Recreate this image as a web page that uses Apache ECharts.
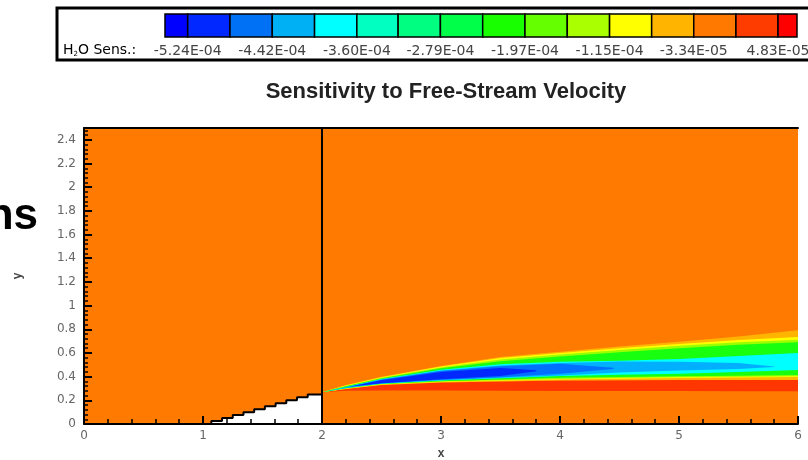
<!DOCTYPE html>
<html><head><meta charset="utf-8">
<script src="https://cdn.jsdelivr.net/npm/echarts@6/dist/echarts.min.js"></script>
<style>html,body{margin:0;padding:0;background:#fff}#c{width:808px;height:460px}</style>
</head><body><div id="c"></div>
<script>
// ---------- data ----------
const titleText = 'Sensitivity to Free-Stream Velocity';
const xTicks = [0, 1, 2, 3, 4, 5, 6];
const yTicks = [0, 0.2, 0.4, 0.6, 0.8, 1, 1.2, 1.4, 1.6, 1.8, 2, 2.2, 2.4];
const domainX = [0, 6];
const domainY = [0, 2.5];

// colour-bar contour levels (cell boundaries) and labelled levels
const cbLevels = [-5.46e-4, -5.24e-4, -4.83e-4, -4.42e-4, -4.01e-4, -3.60e-4, -3.20e-4, -2.79e-4,
                  -2.38e-4, -1.97e-4, -1.56e-4, -1.15e-4, -7.42e-5, -3.34e-5, 7.5e-6, 4.83e-5, 6.67e-5];
const cbLabelValues = [-5.24e-4, -4.42e-4, -3.60e-4, -2.79e-4, -1.97e-4, -1.15e-4, -3.34e-5, 4.83e-5];
const cbLabelTexts = ['-5.24E-04', '-4.42E-04', '-3.60E-04', '-2.79E-04', '-1.97E-04', '-1.15E-04', '-3.34E-05', '4.83E-05'];

// plume contour bands: x stations, lower and upper boundaries
const stationX = [2.0, 2.2, 2.5, 3.0, 3.5, 4.0, 4.5, 5.0, 5.5, 6.0];
const redLo    = [0.268, 0.28, 0.283, 0.282, 0.28, 0.279, 0.278, 0.278, 0.277, 0.277];
const redHi    = [0.268, 0.295, 0.33, 0.35, 0.36, 0.367, 0.37, 0.371, 0.372, 0.372];
const orangeLo = [0.268, 0.295, 0.33, 0.35, 0.36, 0.367, 0.37, 0.371, 0.372, 0.372];
const orangeHi = [0.268, 0.33, 0.40, 0.49, 0.565, 0.61, 0.655, 0.695, 0.74, 0.792];
const yellowLo = [0.268, 0.298, 0.333, 0.354, 0.366, 0.375, 0.383, 0.388, 0.393, 0.397];
const yellowHi = [0.268, 0.325, 0.395, 0.485, 0.558, 0.60, 0.64, 0.675, 0.71, 0.735];
const limeLo   = [0.268, 0.30, 0.336, 0.358, 0.37, 0.381, 0.389, 0.394, 0.399, 0.404];
const limeHi   = [0.268, 0.322, 0.39, 0.478, 0.545, 0.588, 0.625, 0.66, 0.69, 0.712];
const greenLo  = [0.268, 0.302, 0.338, 0.362, 0.376, 0.39, 0.397, 0.403, 0.408, 0.414];
const greenHi  = [0.268, 0.318, 0.385, 0.47, 0.53, 0.57, 0.605, 0.64, 0.67, 0.69];
const cyanLo   = [0.268, 0.305, 0.34, 0.367, 0.386, 0.405, 0.415, 0.425, 0.44, 0.456];
const cyanHi   = [0.268, 0.312, 0.38, 0.458, 0.505, 0.525, 0.535, 0.55, 0.575, 0.60];
const ltBlueX  = [2.0, 2.2, 2.5, 3.0, 3.5, 4.0, 4.5, 5.0, 5.5, 5.8];
const ltBlueLo = [0.268, 0.307, 0.343, 0.37, 0.39, 0.41, 0.435, 0.452, 0.465, 0.482];
const ltBlueHi = [0.268, 0.31, 0.377, 0.452, 0.495, 0.515, 0.528, 0.525, 0.515, 0.486];
const blueX    = [2.0, 2.2, 2.5, 3.0, 3.5, 4.0, 4.45];
const blueLo   = [0.268, 0.306, 0.344, 0.373, 0.395, 0.425, 0.465];
const blueHi   = [0.268, 0.308, 0.373, 0.447, 0.488, 0.508, 0.475];
const dkBlueX  = [2.25, 2.5, 3.0, 3.5, 3.8];
const dkBlueLo = [0.318, 0.345, 0.378, 0.405, 0.445];
const dkBlueHi = [0.318, 0.37, 0.44, 0.472, 0.455];

// wedge (white body) outline
const wedgeX = [1.07, 1.16, 1.25, 1.34, 1.43, 1.52, 1.61, 1.70, 1.79, 1.88, 2.0];
const wedgeY = [0, 0.025, 0.05, 0.075, 0.1, 0.125, 0.15, 0.175, 0.2, 0.225, 0.25];
// separation line
const sepX = [2, 2];
const sepY = [0, 2.5];

// ---------- styles ----------
const palette = ['#0000FF','#0028FF','#0070F5','#00B0F5','#00FFFF','#00FFC0','#00FF80','#00FF48',
                 '#18FF00','#66FF00','#AAFF00','#FFFF00','#FFB400','#FF7800','#FF3C00','#FF0000'];
const bgColor = '#FF7A00';

const bands = [
  {x: stationX, lo: redLo, hi: redHi, color: '#FF3600'},
  {x: stationX, lo: orangeLo, hi: orangeHi, color: '#FFB400'},
  {x: stationX, lo: yellowLo, hi: yellowHi, color: '#FFFF00'},
  {x: stationX, lo: limeLo, hi: limeHi, color: '#9CFF00'},
  {x: stationX, lo: greenLo, hi: greenHi, color: '#18FF10'},
  {x: stationX, lo: cyanLo, hi: cyanHi, color: '#00FFFF'},
  {x: ltBlueX, lo: ltBlueLo, hi: ltBlueHi, color: '#00B0FF'},
  {x: blueX, lo: blueLo, hi: blueHi, color: '#0070FF'},
  {x: dkBlueX, lo: dkBlueLo, hi: dkBlueHi, color: '#0028FF'}
];

const cells = [];
for (let i = 0; i < cbLevels.length - 1; i++) cells.push([cbLevels[i], cbLevels[i + 1], i]);

const FONT = 'Liberation Sans';
const SMALL = 'DejaVu Sans';
const chart = echarts.init(document.getElementById('c'), null, {renderer: 'canvas'});
chart.setOption({
  animation: false,
  backgroundColor: '#fff',
  title: {
    text: titleText, left: 446, top: 81, textAlign: 'center', padding: 0,
    textStyle: {fontFamily: FONT, fontSize: 22, fontWeight: 'bold', color: '#222'}
  },
  grid: [
    {left: 84, right: 10, top: 128, bottom: 36, outerBoundsMode: 'none', containLabel: false},
    {left: 165, top: 14, width: 632, height: 23, outerBoundsMode: 'none', containLabel: false}
  ],
  xAxis: [
    {type: 'value', gridIndex: 0, min: domainX[0], max: domainX[1], interval: 1, z: 10,
     name: 'x', nameLocation: 'middle', nameGap: 24,
     nameTextStyle: {fontFamily: FONT, fontSize: 12, fontWeight: 'bold', color: '#444'},
     axisLine: {show: true, onZero: false, lineStyle: {color: '#000', width: 2}},
     axisTick: {show: true, inside: true, length: 8, lineStyle: {color: '#000', width: 2}},
     minorTick: {show: true, splitNumber: 5, length: 5, lineStyle: {color: '#000', width: 1.5}},
     splitLine: {show: false},
     axisLabel: {customValues: xTicks, margin: 6, fontFamily: SMALL, fontSize: 12, color: '#666'}},
    {type: 'value', gridIndex: 0, position: 'top', min: domainX[0], max: domainX[1], z: 10,
     axisLine: {show: true, onZero: false, lineStyle: {color: '#000', width: 2}},
     axisTick: {show: false}, axisLabel: {show: false}, splitLine: {show: false}},
    {type: 'value', gridIndex: 1, min: cbLevels[0], max: cbLevels[cbLevels.length - 1],
     axisLine: {show: false}, axisTick: {show: false}, splitLine: {show: false},
     axisLabel: {customValues: cbLabelValues, margin: 7, fontFamily: SMALL, fontSize: 14, color: '#444',
       formatter: v => {
         for (let i = 0; i < cbLabelValues.length; i++) if (Math.abs(cbLabelValues[i] - v) < 1e-9) return cbLabelTexts[i];
         return '';
       }}}
  ],
  yAxis: [
    {type: 'value', gridIndex: 0, min: domainY[0], max: domainY[1], interval: 0.2, z: 10,
     name: 'y', nameLocation: 'middle', nameGap: 60,
     nameTextStyle: {fontFamily: FONT, fontSize: 12, fontWeight: 'bold', color: '#444'},
     axisLine: {show: true, onZero: false, lineStyle: {color: '#000', width: 2}},
     axisTick: {show: true, inside: true, length: 8, lineStyle: {color: '#000', width: 2}},
     minorTick: {show: true, splitNumber: 5, length: 4, lineStyle: {color: '#000', width: 1.5}},
     splitLine: {show: false},
     axisLabel: {customValues: yTicks, margin: 8, fontFamily: SMALL, fontSize: 12, color: '#666'}},
    {type: 'value', gridIndex: 1, min: 0, max: 1, show: false}
  ],
  graphic: [
    {type: 'rect', z: 0, shape: {x: 57, y: 8, width: 770, height: 52},
     style: {fill: '#fff', stroke: '#000', lineWidth: 3}},
    {type: 'text', x: 63, y: 50, z: 5,
     style: {text: '{a|H}{s|2}{a|O Sens.:}', verticalAlign: 'middle',
       rich: {a: {fontFamily: SMALL, fontSize: 14, color: '#444'},
              s: {fontFamily: SMALL, fontSize: 7, color: '#666', padding: [9, 0, 0, 0]}}}},
    {type: 'text', x: 38, y: 217, z: 5,
     style: {text: 'ns', textAlign: 'right', verticalAlign: 'middle',
       fontFamily: FONT, fontSize: 44, fontWeight: 'bold', fill: '#000'}}
  ],
  series: [
    {type: 'custom', xAxisIndex: 0, yAxisIndex: 0, z: 1, silent: true,
     data: [[domainX[0], domainY[0]]],
     renderItem: (params, api) => {
       const p0 = api.coord([domainX[0], domainY[1]]);
       const p1 = api.coord([domainX[1], domainY[0]]);
       return {type: 'rect', shape: {x: p0[0], y: p0[1], width: p1[0] - p0[0], height: p1[1] - p0[1]},
               style: {fill: bgColor}};
     }},
    {type: 'custom', xAxisIndex: 0, yAxisIndex: 0, z: 2, silent: true,
     data: bands.map((b, i) => [b.x[0], b.lo[0], i]),
     renderItem: (params, api) => {
       const b = bands[api.value(2)];
       const pts = [];
       for (let i = 0; i < b.x.length; i++) pts.push(api.coord([b.x[i], b.hi[i]]));
       for (let i = b.x.length - 1; i >= 0; i--) pts.push(api.coord([b.x[i], b.lo[i]]));
       return {type: 'polygon', shape: {points: pts}, style: {fill: b.color}};
     }},
    {type: 'line', xAxisIndex: 0, yAxisIndex: 0, z: 3, silent: true, step: 'start', symbol: 'none',
     data: wedgeX.map((x, i) => [x, wedgeY[i]]),
     lineStyle: {color: '#000', width: 2},
     areaStyle: {color: '#fff', opacity: 1, origin: 'start'}},
    {type: 'line', xAxisIndex: 0, yAxisIndex: 0, z: 4, silent: true, symbol: 'none',
     data: sepX.map((x, i) => [x, sepY[i]]),
     lineStyle: {color: '#000', width: 2}},
    {type: 'custom', xAxisIndex: 2, yAxisIndex: 1, z: 3, silent: true,
     data: cells,
     renderItem: (params, api) => {
       const p0 = api.coord([api.value(0), 1]);
       const p1 = api.coord([api.value(1), 0]);
       return {type: 'rect', shape: {x: p0[0], y: p0[1], width: p1[0] - p0[0], height: p1[1] - p0[1]},
               style: {fill: palette[api.value(2)], stroke: '#000', lineWidth: 1.5}};
     }}
  ]
});
</script></body></html>
